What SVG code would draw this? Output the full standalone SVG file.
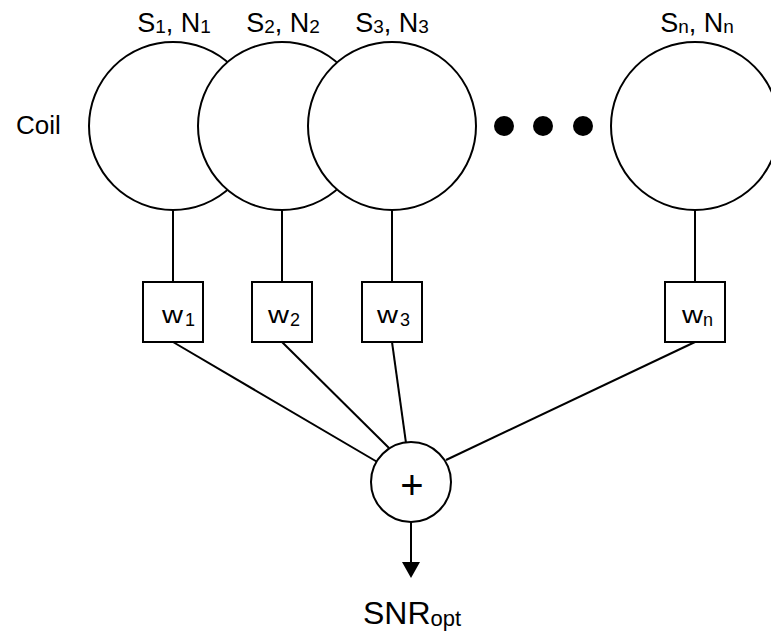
<svg xmlns="http://www.w3.org/2000/svg" width="771" height="638" viewBox="0 0 771 638">
  <style>
    .coil { fill: #ffffff; stroke: #000000; stroke-width: 2; }
    .box { fill: #ffffff; stroke: #000000; stroke-width: 2; }
    .wire { fill: none; stroke: #000000; stroke-width: 2; }
    .lbl { font-family: "Liberation Sans", Arial, sans-serif; fill: #000000; }
    .hdr { font-size: 27px; }
    .sub { font-size: 19px; }
    .dot { fill: #000000; }
  </style>

  <rect width="771" height="638" fill="#ffffff"/>

  <text class="lbl" x="16" y="134" font-size="26">Coil</text>

  <!-- connectors -->
  <g id="connectors">
    <line class="wire" x1="173" y1="210" x2="173" y2="282"/>
    <line class="wire" x1="282" y1="210" x2="282" y2="282"/>
    <line class="wire" x1="392" y1="210" x2="392" y2="282"/>
    <line class="wire" x1="695" y1="210" x2="695" y2="282"/>
    <line class="wire" x1="173" y1="342" x2="376.5" y2="461.5"/>
    <line class="wire" x1="282" y1="342" x2="389" y2="448"/>
    <line class="wire" x1="392" y1="342" x2="406" y2="443"/>
    <line class="wire" x1="695" y1="342" x2="446" y2="460"/>
    <line class="wire" x1="411" y1="522" x2="411" y2="562"/>
    <polygon points="402,562 420,562 411,578" fill="#000000"/>
  </g>

  <!-- coil elements -->
  <g id="coil1">
    <circle class="coil" cx="173" cy="126" r="84"/>
    <text class="lbl hdr" x="174" y="32" text-anchor="middle">S<tspan class="sub" dy="1">1</tspan><tspan dy="-1">, N</tspan><tspan class="sub" dy="1">1</tspan></text>
  </g>
  <g id="coil2">
    <circle class="coil" cx="282" cy="126" r="84"/>
    <text class="lbl hdr" x="283" y="32" text-anchor="middle">S<tspan class="sub" dy="1">2</tspan><tspan dy="-1">, N</tspan><tspan class="sub" dy="1">2</tspan></text>
  </g>
  <g id="coil3">
    <circle class="coil" cx="392" cy="126" r="84"/>
    <text class="lbl hdr" x="392" y="32" text-anchor="middle">S<tspan class="sub" dy="1">3</tspan><tspan dy="-1">, N</tspan><tspan class="sub" dy="1">3</tspan></text>
  </g>
  <g id="ellipsis">
    <circle class="dot" cx="504" cy="126" r="10"/>
    <circle class="dot" cx="543" cy="126" r="10"/>
    <circle class="dot" cx="583" cy="126" r="10"/>
  </g>
  <g id="coiln">
    <circle class="coil" cx="695" cy="126" r="84"/>
    <text class="lbl hdr" x="697" y="32" text-anchor="middle">S<tspan class="sub" dy="1">n</tspan><tspan dy="-1">, N</tspan><tspan class="sub" dy="1">n</tspan></text>
  </g>

  <!-- weights -->
  <g id="w1">
    <rect class="box" x="143" y="282" width="60" height="60"/>
    <text class="lbl" x="162" y="323" font-size="23" textLength="21" lengthAdjust="spacingAndGlyphs">w</text>
    <text class="lbl" x="185" y="326" font-size="18">1</text>
  </g>
  <g id="w2">
    <rect class="box" x="252" y="282" width="60" height="60"/>
    <text class="lbl" x="268" y="323" font-size="23" textLength="21" lengthAdjust="spacingAndGlyphs">w</text>
    <text class="lbl" x="290" y="326" font-size="18">2</text>
  </g>
  <g id="w3">
    <rect class="box" x="362" y="282" width="60" height="60"/>
    <text class="lbl" x="377" y="323" font-size="23" textLength="21" lengthAdjust="spacingAndGlyphs">w</text>
    <text class="lbl" x="400" y="326" font-size="18">3</text>
  </g>
  <g id="wn">
    <rect class="box" x="665" y="282" width="60" height="60"/>
    <text class="lbl" x="682" y="323" font-size="23" textLength="21" lengthAdjust="spacingAndGlyphs">w</text>
    <text class="lbl" x="703" y="326" font-size="18">n</text>
  </g>

  <!-- summing junction -->
  <g id="sum">
    <circle class="coil" cx="411" cy="482" r="40"/>
    <text class="lbl" x="412" y="499" font-size="40" text-anchor="middle">+</text>
  </g>

  <g id="output">
    <text class="lbl" x="363" y="624" font-size="32">SNR<tspan font-size="22" dy="2">opt</tspan></text>
  </g>
</svg>
